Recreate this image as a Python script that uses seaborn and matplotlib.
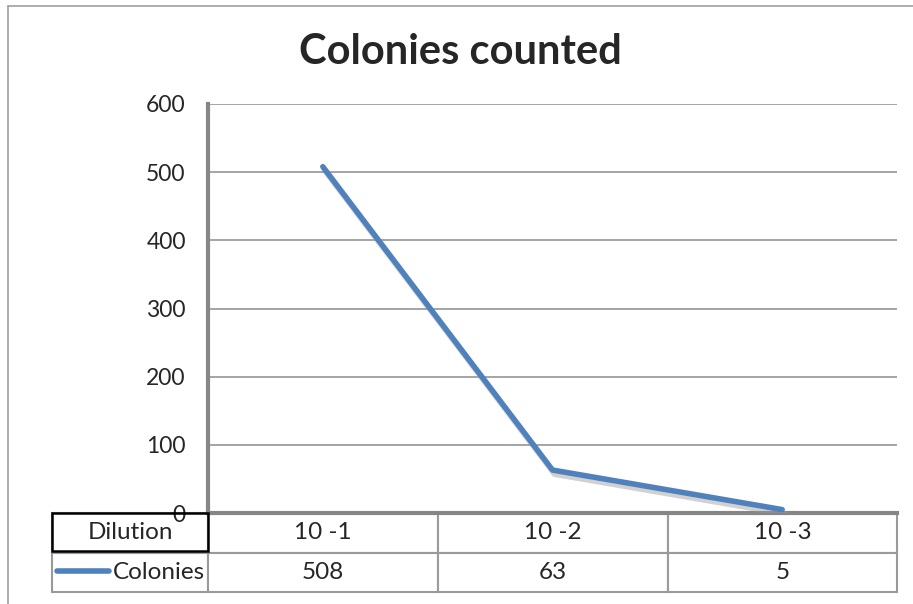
import matplotlib
matplotlib.use("Agg")
import matplotlib.pyplot as plt
import matplotlib.patheffects as pe
from matplotlib.lines import Line2D
from matplotlib.patches import Rectangle
import seaborn as sns
import pandas as pd

# data
dilutions = ["10 -1", "10 -2", "10 -3"]
colonies = [508, 63, 5]
series_name = "Colonies"
header_label = "Dilution"
y_ticks = [0, 100, 200, 300, 400, 500, 600]

sns.set_style("white")
plt.rcParams['font.family'] = ['Lato', 'DejaVu Sans']

W, H = 913, 604
fig = plt.figure(figsize=(W / 100, H / 100), dpi=100)

# plot area in pixel coords
left, right, top, bottom = 208, 897, 104, 513
ax = fig.add_axes([left / W, 1 - bottom / H, (right - left) / W, (bottom - top) / H])

df = pd.DataFrame({"dilution": dilutions, "colonies": colonies})
blue = "#4F81BD"
grid_c = "#8C8C8C"

for t in y_ticks[1:]:
    ax.axhline(t, color=grid_c, lw=1.1, zorder=1)

sns.lineplot(data=df, x="dilution", y="colonies", color=blue, lw=4, ax=ax,
             sort=False, zorder=3,
             path_effects=[pe.SimpleLineShadow(offset=(1.5, -3), shadow_color="#999999", alpha=0.45),
                           pe.Normal()])

ax.set_xlim(-0.5, 2.5)
ax.set_ylim(0, 600)
ax.set_yticks(y_ticks)
ax.set_yticklabels([str(t) for t in y_ticks], fontsize=16.5)
ax.set_xticks([])
ax.set_xlabel("")
ax.set_ylabel("")
ax.tick_params(axis="y", length=0, pad=16)
for s in ["top", "right"]:
    ax.spines[s].set_visible(False)
for s in ["left", "bottom"]:
    ax.spines[s].set_color("#868686")
    ax.spines[s].set_linewidth(3)
    ax.spines[s].set_zorder(2)

fig.text(460 / W, 1 - 52 / H, "Colonies counted", ha="center", va="center",
         fontsize=30, fontweight="bold")

# data table below the plot
tab_left = 52
row_tops = [513, 551, 592]
col_edges = [tab_left, left, 438, 668, right]
ax_w = right - left
ax_h = bottom - top

def to_ax(x, y):
    return (x - left) / ax_w, (bottom - y) / ax_h

cell_text = [[header_label] + dilutions, [series_name] + [str(v) for v in colonies]]
x0, y0 = to_ax(tab_left, row_tops[2])
x1, y1 = to_ax(right, row_tops[0])
tbl = ax.table(cellText=cell_text, cellLoc="center", bbox=[x0, y0, x1 - x0, y1 - y0],
               colWidths=[col_edges[i + 1] - col_edges[i] for i in range(4)])
tbl.auto_set_font_size(False)
for (r, c), cell in tbl.get_celld().items():
    cell.set_edgecolor("#9A9A9A")
    cell.set_linewidth(1.5)
    cell.get_text().set_fontsize(17.5)
    cell.set_facecolor("white")
tbl[1, 0].get_text().set_ha("right")
tbl[1, 0]._loc = "right"
tbl[1, 0].PAD = 0.02

# black frame around the header cell
bx0, by0 = to_ax(tab_left, row_tops[1])
bx1, by1 = to_ax(left, row_tops[0])
ax.add_patch(Rectangle((bx0, by0), bx1 - bx0, by1 - by0, transform=ax.transAxes,
                       fill=False, ec="black", lw=1.8, clip_on=False, zorder=6))

# legend key in the Colonies cell
fig.add_artist(Line2D([57 / W, 109 / W], [1 - 571 / H, 1 - 571 / H], color=blue, lw=4))

# outer chart border
fig.add_artist(Line2D([8 / W, 8 / W], [0, 1 - 6 / H], color="#A0A0A0", lw=1.2))
fig.add_artist(Line2D([8 / W, 1], [1 - 6 / H, 1 - 6 / H], color="#A0A0A0", lw=1.2))

fig.savefig("out.png", dpi=100)
